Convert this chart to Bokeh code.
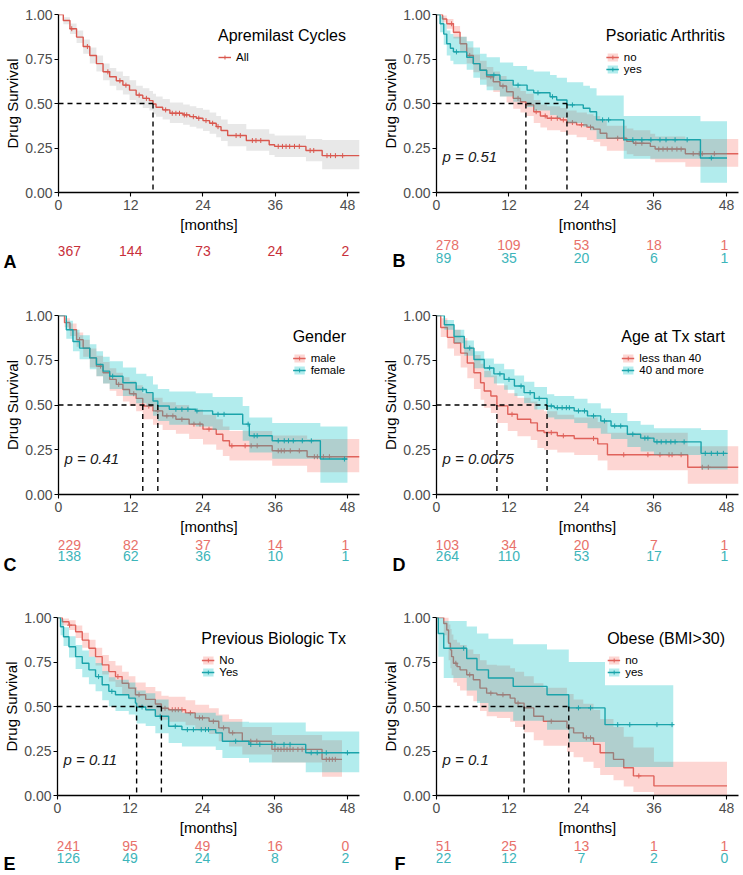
import numpy as np
from bokeh.plotting import figure
from bokeh.models import Range1d, FixedTicker, NumeralTickFormatter, Legend, LegendItem, Label
from bokeh.layouts import column, row
from bokeh.embed import file_html
from bokeh.resources import INLINE
from bokeh.core.properties import value

FONT = "Liberation Sans"

X_TICKS = [0, 12, 24, 36, 48]
Y_TICKS = [0, 0.25, 0.5, 0.75, 1.0]
RISK_TIMES = [0, 12, 24, 36, 48]

# ---------------- Panel A : all cycles ----------------
A_t = [0, 0.8, 1.9, 3.0, 4.1, 5.2, 6.3, 7.4, 8.5, 9.6, 10.7, 11.8, 12.9, 14.0, 15.1, 15.7, 16.2, 17.3, 18.5,
       20.7, 21.8, 22.9, 24.0, 25.1, 26.2, 27.0, 28.1, 31.2, 35.0, 35.9, 41.1, 43.8]
A_s = [1.0, 0.966, 0.92, 0.873, 0.82, 0.77, 0.724, 0.678, 0.65, 0.628, 0.603, 0.575, 0.547, 0.529, 0.516, 0.497,
       0.479, 0.464, 0.445, 0.436, 0.426, 0.417, 0.404, 0.389, 0.37, 0.348, 0.32, 0.292, 0.268, 0.259, 0.236, 0.207]
A_lo = [1.0, 0.945, 0.89, 0.84, 0.78, 0.725, 0.68, 0.63, 0.60, 0.575, 0.55, 0.52, 0.495, 0.475, 0.46, 0.44, 0.425,
        0.41, 0.39, 0.38, 0.37, 0.36, 0.345, 0.33, 0.31, 0.29, 0.26, 0.235, 0.21, 0.20, 0.175, 0.13]
A_hi = [1.0, 0.985, 0.95, 0.91, 0.86, 0.815, 0.77, 0.725, 0.70, 0.68, 0.655, 0.63, 0.60, 0.585, 0.57, 0.555, 0.54,
        0.525, 0.505, 0.495, 0.485, 0.475, 0.465, 0.45, 0.43, 0.41, 0.385, 0.355, 0.33, 0.32, 0.30, 0.295]
A_end = 50.0
A_cens = [2.2, 4.8, 8.2, 10.2, 11.2, 13.4, 14.6, 17.8, 18.9, 19.5, 20.1, 20.9, 21.3, 22.4, 23.3, 24.5, 25.6, 26.5,
          29.5, 30.2, 32.2, 32.8, 33.6, 36.5, 37.2, 37.8, 38.4, 39.2, 40.0, 41.8, 42.4, 44.6, 45.2, 46.0, 47.2]
A_risk = [367, 144, 73, 24, 2]

# ---------------- Panel B : psoriatic arthritis ----------------
B_no_t = [0, 1.0, 1.7, 2.8, 3.9, 5.0, 6.1, 7.2, 8.3, 9.4, 10.5, 11.6, 12.7, 13.9, 14.8, 16.1, 17.2, 18.3, 20.5,
          21.6, 23.2, 24.9, 26.0, 27.1, 28.2, 31.5, 32.6, 35.4, 36.2, 41.2]
B_no_s = [1.0, 0.975, 0.948, 0.90, 0.836, 0.77, 0.724, 0.687, 0.65, 0.622, 0.598, 0.566, 0.529, 0.51, 0.492, 0.454,
          0.43, 0.417, 0.408, 0.393, 0.38, 0.367, 0.356, 0.333, 0.305, 0.287, 0.277, 0.259, 0.244, 0.218]
B_no_lo = [1.0, 0.955, 0.92, 0.865, 0.795, 0.725, 0.675, 0.635, 0.595, 0.565, 0.54, 0.505, 0.47, 0.45, 0.43, 0.39,
           0.365, 0.35, 0.34, 0.325, 0.31, 0.295, 0.285, 0.26, 0.235, 0.215, 0.205, 0.185, 0.17, 0.145]
B_no_hi = [1.0, 0.995, 0.975, 0.935, 0.875, 0.815, 0.775, 0.74, 0.705, 0.68, 0.655, 0.625, 0.59, 0.57, 0.555, 0.52,
           0.495, 0.485, 0.475, 0.46, 0.45, 0.44, 0.43, 0.405, 0.375, 0.36, 0.35, 0.33, 0.315, 0.30]
B_no_end = 50.0
B_no_cens = [2.5, 5.5, 9.0, 11.0, 13.5, 16.5, 18.0, 19.0, 20.0, 21.0, 22.5, 24.0, 25.5, 30.0, 31.0, 33.0, 34.0,
             36.8, 37.5, 38.2, 39.0, 39.8, 40.5, 42.5, 43.5, 44.0, 46.0]
B_no_risk = [278, 109, 53, 18, 1]

B_yes_t = [0, 0.6, 1.2, 1.7, 2.3, 2.8, 5.0, 6.1, 7.2, 8.3, 10.5, 12.7, 15.0, 16.1, 18.8, 19.9, 21.6, 24.3, 25.4,
           26.5, 31.0, 43.7]
B_yes_s = [1.0, 0.948, 0.89, 0.836, 0.81, 0.79, 0.76, 0.724, 0.687, 0.66, 0.63, 0.603, 0.575, 0.56, 0.538, 0.52,
           0.492, 0.473, 0.454, 0.408, 0.296, 0.194]
B_yes_lo = [1.0, 0.90, 0.83, 0.77, 0.74, 0.72, 0.69, 0.645, 0.605, 0.575, 0.54, 0.51, 0.48, 0.46, 0.435, 0.42, 0.39,
            0.37, 0.35, 0.30, 0.19, 0.055]
B_yes_hi = [1.0, 0.99, 0.95, 0.91, 0.89, 0.875, 0.85, 0.815, 0.78, 0.76, 0.73, 0.71, 0.69, 0.68, 0.66, 0.645, 0.62,
            0.60, 0.585, 0.545, 0.43, 0.40]
B_yes_end = 48.1
B_yes_cens = [3.3, 9.5, 13.5, 16.8, 19.2, 22.5, 27.5, 28.5, 32.5, 34.0, 35.5, 37.0, 38.0, 39.5, 41.5, 45.5]
B_yes_risk = [89, 35, 20, 6, 1]

# ---------------- Panel C : gender ----------------
C_m_t = [0, 1.0, 1.9, 3.0, 4.1, 5.2, 6.3, 7.4, 8.5, 9.6, 10.7, 11.8, 12.9, 14.0, 15.7, 17.3, 19.5, 21.7, 24.0,
         26.2, 27.3, 28.4, 35.5, 41.3]
C_m_s = [1.0, 0.96, 0.92, 0.865, 0.818, 0.763, 0.717, 0.68, 0.643, 0.615, 0.587, 0.563, 0.537, 0.494, 0.467, 0.439,
         0.42, 0.393, 0.365, 0.337, 0.30, 0.272, 0.244, 0.211]
C_m_lo = [1.0, 0.935, 0.885, 0.825, 0.77, 0.71, 0.66, 0.62, 0.58, 0.55, 0.52, 0.495, 0.465, 0.42, 0.39, 0.36, 0.34,
          0.31, 0.28, 0.25, 0.215, 0.19, 0.16, 0.124]
C_m_hi = [1.0, 0.985, 0.955, 0.905, 0.865, 0.815, 0.775, 0.74, 0.705, 0.68, 0.655, 0.635, 0.61, 0.565, 0.54, 0.515,
          0.50, 0.475, 0.445, 0.42, 0.38, 0.355, 0.33, 0.31]
C_m_end = 50.0
C_m_cens = [3.5, 7.0, 10.0, 12.5, 15.0, 16.5, 18.0, 19.0, 20.5, 22.5, 23.5, 25.0, 28.8, 31.0, 32.0, 33.0, 36.5,
            37.0, 37.5, 38.5, 40.0, 42.5, 43.0, 44.0, 45.0]
C_m_risk = [229, 82, 37, 14, 1]

C_f_t = [0, 1.3, 2.4, 3.5, 5.2, 6.3, 7.4, 8.5, 10.7, 12.9, 14.6, 15.7, 16.5, 18.4, 22.8, 25.6, 30.6, 31.7, 35.5,
         43.5]
C_f_s = [1.0, 0.92, 0.855, 0.818, 0.763, 0.726, 0.689, 0.661, 0.624, 0.587, 0.569, 0.522, 0.494, 0.476, 0.467,
         0.448, 0.393, 0.328, 0.30, 0.198]
C_f_lo = [1.0, 0.87, 0.80, 0.755, 0.70, 0.66, 0.62, 0.59, 0.55, 0.51, 0.49, 0.44, 0.41, 0.39, 0.38, 0.36, 0.30,
          0.235, 0.20, 0.065]
C_f_hi = [1.0, 0.97, 0.92, 0.89, 0.84, 0.80, 0.77, 0.745, 0.71, 0.675, 0.66, 0.615, 0.59, 0.575, 0.565, 0.545,
          0.495, 0.43, 0.40, 0.38]
C_f_end = 48.0
C_f_cens = [9.0, 14.0, 19.5, 20.5, 21.5, 23.0, 26.5, 27.5, 31.5, 32.5, 33.0, 36.5, 37.5, 38.2, 39.0, 40.5, 42.0, 47.5]
C_f_risk = [138, 62, 36, 10, 1]

# ---------------- Panel D : age at treatment start ----------------
D_l_t = [0, 0.7, 1.8, 2.9, 4.0, 5.1, 6.2, 7.3, 7.9, 9.0, 10.0, 11.8, 13.4, 15.6, 16.7, 17.8, 20.0, 22.8, 26.7,
         28.3, 41.6]
D_l_s = [1.0, 0.933, 0.878, 0.846, 0.79, 0.735, 0.68, 0.624, 0.578, 0.55, 0.495, 0.448, 0.42, 0.40, 0.356, 0.346,
         0.328, 0.313, 0.283, 0.222, 0.152]
D_l_lo = [1.0, 0.88, 0.815, 0.775, 0.71, 0.65, 0.59, 0.53, 0.485, 0.455, 0.40, 0.355, 0.325, 0.305, 0.26, 0.25,
          0.235, 0.22, 0.19, 0.135, 0.06]
D_l_hi = [1.0, 0.985, 0.945, 0.92, 0.875, 0.825, 0.78, 0.73, 0.69, 0.665, 0.61, 0.565, 0.54, 0.52, 0.475, 0.465,
          0.445, 0.43, 0.405, 0.345, 0.27]
D_l_end = 50.0
D_l_cens = [12.5, 19.0, 21.0, 26.0, 31.0, 35.0, 37.0, 38.5, 39.0, 40.5, 44.0, 45.0]
D_l_risk = [103, 34, 20, 7, 1]

D_o_t = [0, 1.3, 2.9, 4.6, 6.2, 7.9, 9.5, 11.2, 12.9, 14.5, 16.2, 18.3, 19.5, 22.8, 25.0, 27.2, 28.9, 31.6, 33.8,
         36.0, 43.8]
D_o_s = [1.0, 0.948, 0.883, 0.818, 0.754, 0.707, 0.674, 0.643, 0.606, 0.569, 0.537, 0.494, 0.485, 0.467, 0.439,
         0.411, 0.383, 0.337, 0.315, 0.294, 0.23]
D_o_lo = [1.0, 0.92, 0.845, 0.775, 0.705, 0.655, 0.62, 0.585, 0.55, 0.51, 0.475, 0.43, 0.42, 0.40, 0.37, 0.34,
          0.31, 0.265, 0.24, 0.22, 0.14]
D_o_hi = [1.0, 0.975, 0.92, 0.86, 0.80, 0.76, 0.73, 0.70, 0.665, 0.63, 0.60, 0.56, 0.55, 0.535, 0.51, 0.48, 0.455,
          0.41, 0.39, 0.37, 0.36]
D_o_end = 48.2
D_o_cens = [5.5, 8.8, 10.5, 12.0, 14.0, 15.5, 17.0, 19.0, 20.0, 20.8, 21.5, 22.0, 23.5, 24.5, 26.0, 27.8, 29.5,
            30.5, 32.5, 34.5, 35.0, 36.5, 37.2, 38.0, 38.8, 39.5, 41.0, 44.5, 45.5, 46.5, 47.5]
D_o_risk = [264, 110, 53, 17, 1]

# ---------------- Panel E : previous biologic treatment ----------------
E_n_t = [0, 0.8, 1.9, 3.0, 4.1, 5.2, 6.3, 7.4, 8.5, 9.6, 10.7, 11.8, 12.9, 14.6, 16.2, 17.2, 18.4, 21.2, 22.8,
         25.1, 26.7, 28.4, 30.6, 35.5, 43.8]
E_n_s = [1.0, 0.976, 0.957, 0.92, 0.873, 0.827, 0.78, 0.734, 0.696, 0.668, 0.631, 0.603, 0.566, 0.54, 0.514, 0.49,
         0.482, 0.464, 0.436, 0.417, 0.38, 0.352, 0.305, 0.259, 0.203]
E_n_lo = [1.0, 0.955, 0.93, 0.885, 0.83, 0.78, 0.73, 0.68, 0.64, 0.61, 0.57, 0.54, 0.50, 0.475, 0.45, 0.425, 0.415,
          0.395, 0.365, 0.345, 0.305, 0.275, 0.23, 0.185, 0.105]
E_n_hi = [1.0, 0.995, 0.985, 0.955, 0.915, 0.875, 0.83, 0.79, 0.755, 0.73, 0.695, 0.67, 0.635, 0.61, 0.585, 0.56,
          0.555, 0.535, 0.51, 0.49, 0.455, 0.43, 0.385, 0.34, 0.31]
E_n_end = 47.1
E_n_cens = [2.0, 10.0, 13.5, 17.8, 19.0, 19.5, 20.0, 20.6, 22.0, 23.5, 24.0, 25.8, 27.5, 29.0, 32.0, 33.0, 36.0,
            36.5, 37.0, 37.5, 38.0, 38.5, 39.0, 39.8, 40.5, 44.5, 45.0, 45.5, 46.0]
E_n_risk = [241, 95, 49, 16, 0]

E_y_t = [0, 0.5, 1.0, 1.9, 3.0, 4.1, 5.2, 6.3, 7.4, 8.5, 9.6, 11.8, 12.9, 13.1, 14.6, 16.2, 18.4, 20.6, 26.2, 27.3,
         31.7, 41.1]
E_y_s = [1.0, 0.948, 0.892, 0.836, 0.78, 0.743, 0.706, 0.668, 0.622, 0.585, 0.566, 0.547, 0.519, 0.497, 0.482,
         0.445, 0.389, 0.37, 0.352, 0.305, 0.287, 0.24]
E_y_lo = [1.0, 0.90, 0.84, 0.775, 0.71, 0.665, 0.625, 0.585, 0.535, 0.50, 0.475, 0.455, 0.425, 0.405, 0.39, 0.35,
          0.295, 0.275, 0.255, 0.21, 0.185, 0.13]
E_y_hi = [1.0, 0.99, 0.945, 0.895, 0.845, 0.815, 0.78, 0.745, 0.70, 0.665, 0.65, 0.635, 0.61, 0.59, 0.575, 0.54,
          0.485, 0.465, 0.45, 0.415, 0.41, 0.36]
E_y_end = 50.0
E_y_cens = [6.8, 9.0, 14.0, 17.0, 19.5, 21.5, 22.5, 23.8, 24.5, 25.0, 29.5, 32.0, 33.5, 36.0, 37.5, 38.5, 42.0,
            43.0, 44.5, 48.0]
E_y_risk = [126, 49, 24, 8, 2]

# ---------------- Panel F : obesity ----------------
F_n_t = [0, 1.2, 1.7, 2.0, 2.3, 2.5, 2.8, 3.4, 3.9, 5.0, 6.1, 7.2, 8.3, 10.0, 12.2, 13.0, 14.5, 16.1, 17.7, 21.6,
         22.7, 24.3, 26.0, 27.1, 29.3, 31.0, 32.6, 36.0]
F_n_s = [1.0, 0.966, 0.93, 0.855, 0.818, 0.78, 0.743, 0.724, 0.706, 0.678, 0.65, 0.603, 0.575, 0.566, 0.547, 0.519,
         0.492, 0.445, 0.417, 0.38, 0.352, 0.324, 0.287, 0.24, 0.203, 0.156, 0.11, 0.054]
F_n_lo = [1.0, 0.90, 0.86, 0.76, 0.715, 0.675, 0.635, 0.615, 0.59, 0.56, 0.53, 0.475, 0.445, 0.435, 0.415, 0.385,
          0.355, 0.31, 0.28, 0.245, 0.215, 0.19, 0.155, 0.115, 0.085, 0.05, 0.02, 0.0]
F_n_hi = [1.0, 1.0, 1.0, 0.96, 0.935, 0.905, 0.875, 0.86, 0.845, 0.82, 0.795, 0.76, 0.735, 0.73, 0.715, 0.695,
          0.67, 0.63, 0.605, 0.57, 0.54, 0.515, 0.48, 0.43, 0.385, 0.33, 0.27, 0.19]
F_n_end = 48.1
F_n_cens = [3.2, 5.5, 9.0, 11.0, 13.5, 19.0, 24.8, 25.5, 33.5]
F_n_risk = [51, 25, 13, 1, 1]

F_y_t = [0, 0.3, 1.2, 5.0, 6.7, 8.6, 12.7, 18.3, 21.9, 27.9]
F_y_s = [1.0, 0.91, 0.827, 0.77, 0.706, 0.66, 0.613, 0.566, 0.492, 0.398]
F_y_lo = [1.0, 0.78, 0.66, 0.59, 0.52, 0.47, 0.42, 0.37, 0.30, 0.16]
F_y_hi = [1.0, 1.0, 0.98, 0.95, 0.91, 0.88, 0.85, 0.82, 0.75, 0.62]
F_y_end = 39.2
F_y_cens = [4.5, 23.5, 25.5, 30.0, 32.0, 36.5, 39.0]
F_y_risk = [22, 12, 7, 2, 0]

P_VALUES = {"B": "p = 0.51", "C": "p = 0.41", "D": "p = 0.0075", "E": "p = 0.11", "F": "p = 0.1"}

# ---------------- styling ----------------
RED_LINE = "#E0625B"
RED_FILL = "#F8766D"
RED_TEXT = "#E8716A"
TEAL_LINE = "#1AA3AA"
TEAL_FILL = "#00BFC4"
TEAL_TEXT = "#3DB5BA"
ALL_LINE = "#D9574E"
ALL_FILL = "#BDBDBD"
ALL_TEXT = "#C8303A"

X_MAX = 50.0

LEFT_W, RIGHT_W = 372, 369
LEFT_BORDERS = (57, 13)   # frame left offset, right border
RIGHT_BORDERS = (64, 3)
MAIN_BOTTOM = 42


def grp(name, t, s, lo, hi, end, cens, risk, line, fill, falpha, text):
    return dict(name=name, t=t, s=s, lo=lo, hi=hi, end=end, cens=cens, risk=risk,
                line=line, fill=fill, falpha=falpha, text=text)


def make_panel(letter, title, groups, left, top, frame_h, risk_h, risk_rows, letter_y, letter_right_px,
               pval=None, legend_fill=True):
    W = LEFT_W if left else RIGHT_W
    bl, br = LEFT_BORDERS if left else RIGHT_BORDERS
    p = figure(width=W, height=top + frame_h + MAIN_BOTTOM,
               x_range=Range1d(0, X_MAX), y_range=Range1d(0, 1.0),
               output_backend="svg", toolbar_location=None,
               min_border_left=bl, min_border_right=br,
               min_border_top=top, min_border_bottom=MAIN_BOTTOM,
               background_fill_color="white", border_fill_color="white")
    p.outline_line_color = None
    p.xgrid.visible = False
    p.ygrid.visible = False

    for ax in (p.xaxis[0], p.yaxis[0]):
        ax.axis_line_color = "black"
        ax.axis_line_width = 1.3
        ax.major_tick_line_color = "black"
        ax.major_tick_line_width = 1.1
        ax.major_tick_out = 4
        ax.major_tick_in = 0
        ax.minor_tick_line_color = None
        ax.major_label_text_font = FONT
        ax.major_label_text_font_size = "14px"
        ax.major_label_text_color = "#4D4D4D"
        ax.axis_label_text_font = FONT
        ax.axis_label_text_font_size = "15px"
        ax.axis_label_text_font_style = "normal"
        ax.axis_label_text_color = "black"
    p.xaxis.ticker = FixedTicker(ticks=X_TICKS)
    p.yaxis.ticker = FixedTicker(ticks=Y_TICKS)
    p.yaxis.formatter = NumeralTickFormatter(format="0.00")
    p.xaxis.axis_label = "[months]"
    p.yaxis.axis_label = "Drug Survival"
    p.xaxis.major_label_standoff = 3
    p.yaxis.major_label_standoff = 2
    p.xaxis.axis_label_standoff = 3
    p.yaxis.axis_label_standoff = 1

    items = []
    medians = []
    for g in groups:
        xs = list(g["t"]) + [g["end"]]
        lo = list(g["lo"]) + [g["lo"][-1]]
        hi = list(g["hi"]) + [g["hi"][-1]]
        ys = list(g["s"]) + [g["s"][-1]]
        band = p.varea_step(x=xs, y1=lo, y2=hi, step_mode="after",
                            fill_color=g["fill"], fill_alpha=g["falpha"])
        ln = p.step(x=xs, y=ys, mode="after", line_color=g["line"], line_width=1.4)
        t_arr = np.array(g["t"])
        s_arr = np.array(g["s"])
        cens = np.array(g["cens"])
        idx = np.searchsorted(t_arr, cens, side="right") - 1
        cr = p.scatter(x=cens, y=s_arr[idx], marker="cross", size=5, line_color=g["line"], line_width=1.0)
        below = s_arr <= 0.5
        if below.any():
            medians.append(t_arr[np.argmax(below)])
        rend = ([band] if legend_fill else []) + [ln, cr]
        items.append(LegendItem(label=g["name"], renderers=rend))

    # median guide lines
    if medians:
        mx = max(medians)
        p.segment(x0=[0], y0=[0.5], x1=[mx], y1=[0.5], line_color="black", line_width=1.4, line_dash="5 4")
        p.segment(x0=medians, y0=[0.5] * len(medians), x1=medians, y1=[0] * len(medians),
                  line_color="black", line_width=1.4, line_dash="5 4")

    legend = Legend(items=items, title=title, location="top_right",
                    title_text_font=FONT, title_text_font_size="16px", title_text_font_style="normal",
                    title_text_color="black", title_standoff=6,
                    label_text_font=FONT, label_text_font_size="11.5px", label_text_color="black",
                    label_text_line_height=0.8,
                    glyph_width=13, glyph_height=10, label_height=10, label_standoff=5,
                    spacing=0, padding=0, margin=13,
                    background_fill_alpha=0, border_line_color=None)
    p.add_layout(legend)

    if pval:
        p.add_layout(Label(x=1.0, y=0.2, text=pval, text_font=FONT, text_font_size="15px",
                           text_font_style="italic", text_color="#1A1A1A", text_baseline="middle",
                           text_align="left"))

    # ---- number-at-risk strip (frame aligned with the plot above) ----
    r = figure(width=W, height=risk_h,
               x_range=Range1d(0, X_MAX), y_range=Range1d(risk_h, 0),
               output_backend="svg", toolbar_location=None, x_axis_type=None,
               min_border_left=bl, min_border_right=br, min_border_top=0, min_border_bottom=0,
               background_fill_color="white", border_fill_color="white")
    r.outline_line_color = None
    r.xgrid.visible = False
    r.ygrid.visible = False
    # panel letter as the single (horizontal) tick label of a bare left axis
    r.yaxis.ticker = FixedTicker(ticks=[letter_y])
    r.yaxis.major_label_overrides = {letter_y: letter}
    r.yaxis.axis_line_color = None
    r.yaxis.major_tick_line_color = None
    r.yaxis.minor_tick_line_color = None
    r.yaxis.major_tick_out = 0
    r.yaxis.major_label_standoff = bl - letter_right_px
    r.yaxis.major_label_text_font = FONT
    r.yaxis.major_label_text_font_size = "18px"
    r.yaxis.major_label_text_font_style = "bold"
    r.yaxis.major_label_text_color = "black"

    n = len(RISK_TIMES)
    for gi, g in enumerate(groups):
        yv = risk_rows[gi]
        for sel, align, shift in (([0], "left", -0.15), (list(range(1, n - 1)), "center", 0.0),
                                  ([n - 1], "right", 0.3)):
            r.text(x=[RISK_TIMES[j] + shift for j in sel], y=[yv] * len(sel),
                   text=[str(g["risk"][j]) for j in sel],
                   text_font=value(FONT), text_font_size="14px", text_color=g["text"],
                   text_align=align, text_baseline="middle")
    return column(p, r, spacing=0)


gA = [grp("All", A_t, A_s, A_lo, A_hi, A_end, A_cens, A_risk, ALL_LINE, ALL_FILL, 0.35, ALL_TEXT)]
gB = [grp("no", B_no_t, B_no_s, B_no_lo, B_no_hi, B_no_end, B_no_cens, B_no_risk, RED_LINE, RED_FILL, 0.3, RED_TEXT),
      grp("yes", B_yes_t, B_yes_s, B_yes_lo, B_yes_hi, B_yes_end, B_yes_cens, B_yes_risk, TEAL_LINE, TEAL_FILL, 0.3, TEAL_TEXT)]
gC = [grp("male", C_m_t, C_m_s, C_m_lo, C_m_hi, C_m_end, C_m_cens, C_m_risk, RED_LINE, RED_FILL, 0.3, RED_TEXT),
      grp("female", C_f_t, C_f_s, C_f_lo, C_f_hi, C_f_end, C_f_cens, C_f_risk, TEAL_LINE, TEAL_FILL, 0.3, TEAL_TEXT)]
gD = [grp("less than 40", D_l_t, D_l_s, D_l_lo, D_l_hi, D_l_end, D_l_cens, D_l_risk, RED_LINE, RED_FILL, 0.3, RED_TEXT),
      grp("40 and more", D_o_t, D_o_s, D_o_lo, D_o_hi, D_o_end, D_o_cens, D_o_risk, TEAL_LINE, TEAL_FILL, 0.3, TEAL_TEXT)]
gE = [grp("No", E_n_t, E_n_s, E_n_lo, E_n_hi, E_n_end, E_n_cens, E_n_risk, RED_LINE, RED_FILL, 0.3, RED_TEXT),
      grp("Yes", E_y_t, E_y_s, E_y_lo, E_y_hi, E_y_end, E_y_cens, E_y_risk, TEAL_LINE, TEAL_FILL, 0.3, TEAL_TEXT)]
gF = [grp("no", F_n_t, F_n_s, F_n_lo, F_n_hi, F_n_end, F_n_cens, F_n_risk, RED_LINE, RED_FILL, 0.3, RED_TEXT),
      grp("yes", F_y_t, F_y_s, F_y_lo, F_y_hi, F_y_end, F_y_cens, F_y_risk, TEAL_LINE, TEAL_FILL, 0.3, TEAL_TEXT)]

pA = make_panel("A", "Apremilast Cycles", gA, True, 14, 179, 51, [15], 26, 15, legend_fill=False)
pB = make_panel("B", "Psoriatic Arthritis", gB, False, 14, 179, 51, [9, 22], 25, 33, pval=P_VALUES["B"])
pC = make_panel("C", "Gender", gC, True, 29, 180, 43, [7, 18], 27, 15, pval=P_VALUES["C"])
pD = make_panel("D", "Age at Tx start", gD, False, 29, 180, 43, [7, 18], 27, 33, pval=P_VALUES["D"])
pE = make_panel("E", "Previous Biologic Tx", gE, True, 37, 179, 35, [7, 19], 25, 15, pval=P_VALUES["E"])
pF = make_panel("F", "Obese (BMI>30)", gF, False, 37, 179, 35, [7, 19], 25, 33, pval=P_VALUES["F"])

layout = column(row(pA, pB, spacing=0), row(pC, pD, spacing=0), row(pE, pF, spacing=0), spacing=0)
open("out.html", "w").write(file_html(layout, INLINE))
